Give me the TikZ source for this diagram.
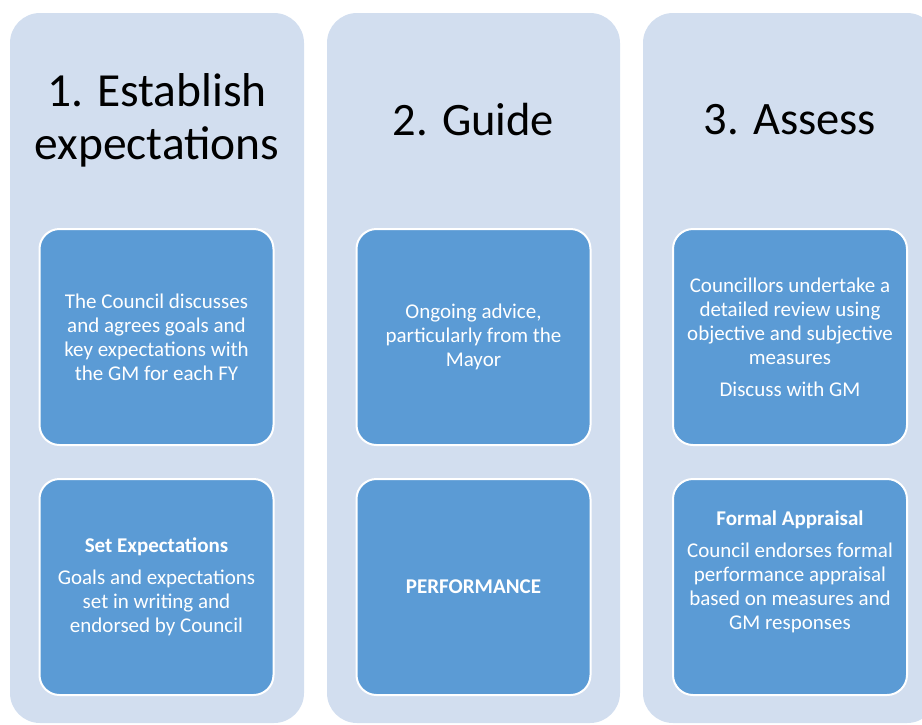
\documentclass[tikz,border=0pt]{standalone}
\usepackage{fontspec}
\setmainfont{Carlito}
\definecolor{colbg}{HTML}{D2DEEF}
\definecolor{boxbg}{HTML}{5B9BD5}
\begin{document}
\begin{tikzpicture}[x=1pt,y=-1pt,
  column/.style={fill=colbg, rounded corners=30pt},
  itembox/.style={draw=white, line width=2pt, fill=boxbg, rounded corners=20pt,
    minimum width=234pt, minimum height=216pt, inner sep=0pt},
  itemtext/.style={text=white, align=center, inner sep=0pt,
    font=\fontsize{21}{24}\selectfont},
  titletext/.style={text=black, align=center, inner sep=0pt,
    font=\fontsize{47.5}{53}\selectfont}]
\useasboundingbox (0,0) rectangle (922,724);
\clip (0,0) rectangle (922,724);
% columns
\fill[column] (10,13) rectangle (304,723);
\fill[column] (327,13) rectangle (620,723);
\fill[column] (643,13) rectangle (937,723);
% titles
\node[titletext] (t1) at (157,120) {1. Establish\\expectations};
\node[titletext, font=\fontsize{46.5}{53}\selectfont] (t2) at (473.5,120) {2. Guide};
\node[titletext, font=\fontsize{46.5}{53}\selectfont] (t3) at (790,120) {3. Assess};
% boxes
\node[itembox] (b11) at (156.5,337) {};
\node[itembox] (b12) at (156.5,587) {};
\node[itembox] (b21) at (473.5,337) {};
\node[itembox] (b22) at (473.5,587) {};
\node[itembox] (b31) at (790,337) {};
\node[itembox] (b32) at (790,587) {};
% texts
\node[itemtext] (x11) at (b11.center) {The Council discusses\\and agrees goals and\\key expectations with\\the GM for each FY};
\node[itemtext] (x12) at (b12.center) {\textbf{Set Expectations}\\[8pt]Goals and expectations\\set in writing and\\endorsed by Council};
\node[itemtext] (x21) at (b21.center) {Ongoing advice,\\particularly from the\\Mayor};
\node[itemtext] (x22) at (b22.center) {\textbf{PERFORMANCE}};
\node[itemtext] (x31) at (b31.center) {Councillors undertake a\\detailed review using\\objective and subjective\\measures\\[8pt]Discuss with GM};
\node[itemtext, yshift=15pt] (x32) at (b32.center) {\textbf{Formal Appraisal}\\[8pt]Council endorses formal\\performance appraisal\\based on measures and\\GM responses};
\end{tikzpicture}
\end{document}
